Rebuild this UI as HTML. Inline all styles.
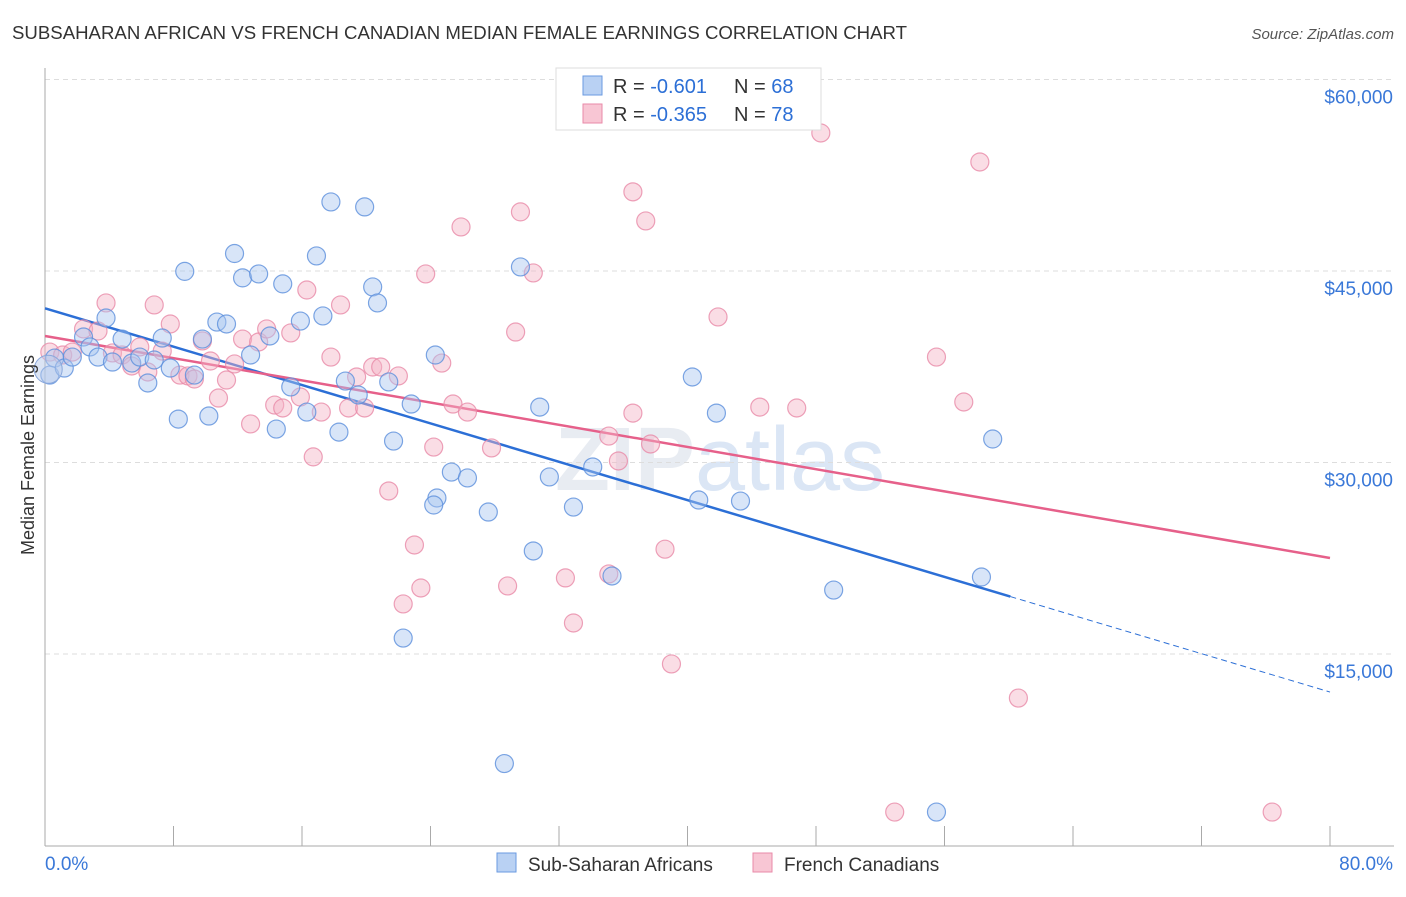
<!DOCTYPE html>
<html><head><meta charset="utf-8"><style>
body{margin:0;background:#fff;font-family:"Liberation Sans",sans-serif}
svg text{font-family:"Liberation Sans",sans-serif}
</style></head><body>
<svg id="chart" width="1406" height="892" viewBox="0 0 1406 892">
<text x="12" y="39" font-size="18" fill="#333" textLength="895" lengthAdjust="spacingAndGlyphs">SUBSAHARAN AFRICAN VS FRENCH CANADIAN MEDIAN FEMALE EARNINGS CORRELATION CHART</text>
<text x="1394" y="39" font-size="15" fill="#555" font-style="italic" text-anchor="end">Source: ZipAtlas.com</text>
<text x="720" y="490" font-size="90" fill="#e8ecf2" text-anchor="middle" font-weight="bold">ZIP<tspan fill="#dbe6f5" font-weight="normal">atlas</tspan></text>
<g id="grid"></g><g id="axes"></g><g id="lines"></g><g id="pts"></g>
<text transform="translate(34,455) rotate(-90)" font-size="18" fill="#333" text-anchor="middle">Median Female Earnings</text>
<g>
<rect x="556" y="68" width="265" height="62" fill="#fff" stroke="#ddd"/>
<rect x="583" y="76" width="19" height="19" fill="#b9d1f3" stroke="#6a9ae0"/>
<rect x="583" y="104" width="19" height="19" fill="#f8c6d4" stroke="#e98aa8"/>
<text x="613" y="93" font-size="20" fill="#333">R = <tspan fill="#2c6fd6">-0.601</tspan><tspan x="734">N = </tspan><tspan fill="#2c6fd6">68</tspan></text>
<text x="613" y="121" font-size="20" fill="#333">R = <tspan fill="#2c6fd6">-0.365</tspan><tspan x="734">N = </tspan><tspan fill="#2c6fd6">78</tspan></text>
</g>
<g>
<rect x="497" y="853" width="19" height="19" fill="#b9d1f3" stroke="#6a9ae0"/>
<text x="528" y="871" font-size="19" fill="#333">Sub-Saharan Africans</text>
<rect x="753" y="853" width="19" height="19" fill="#f8c6d4" stroke="#e98aa8"/>
<text x="784" y="871" font-size="19" fill="#333">French Canadians</text>
</g>
</svg>
<script>
const blueX=[0.3,0.6,1.2,1.7,2.4,2.8,3.3,3.8,4.2,4.8,5.4,5.9,6.4,6.8,7.3,7.8,8.3,8.7,9.3,9.8,10.2,10.7,11.3,11.8,12.3,12.8,13.3,14.0,14.4,14.8,15.3,15.9,16.3,16.9,17.3,17.8,18.3,18.7,19.5,19.9,20.4,20.7,21.4,21.7,22.3,22.8,24.3,25.3,26.3,27.6,28.6,29.6,30.4,30.8,31.4,32.9,34.1,35.3,40.3,40.7,41.8,43.3,49.1,55.5,58.3,59.0,24.4,24.2];
const blueY=[36850,38180,37400,38260,39830,39050,38260,41320,37870,39670,37790,38260,36230,38030,39750,37400,33400,44970,36850,39670,33640,41000,40850,46370,44460,38420,44770,39910,32620,43990,35920,41080,33950,46180,41480,50410,32380,36380,35290,50020,43750,42500,36310,31680,16250,34580,38420,29250,28790,26120,6420,45320,23070,34340,28870,26510,29650,21110,36700,27060,33870,26980,20010,2620,21030,31840,27220,26670];
const pinkX=[0.3,1.1,1.7,2.4,3.3,3.8,4.2,4.8,5.4,5.9,6.4,6.8,7.3,7.8,8.4,8.9,9.3,9.8,10.3,10.8,11.3,11.8,12.3,12.8,13.3,13.8,14.3,14.8,15.3,15.9,16.3,16.7,17.2,17.8,18.4,18.9,19.4,19.9,20.4,20.9,21.4,22.0,22.3,23.0,23.4,23.7,24.2,24.7,25.4,25.9,26.3,27.8,28.8,29.3,29.6,30.4,32.4,32.9,35.1,35.1,35.7,36.6,36.6,37.4,37.7,38.6,39.0,41.9,44.5,46.8,48.3,52.9,55.5,57.2,58.2,60.6,76.4];
const pinkY=[38650,38420,38650,40460,40300,42500,38580,38420,37560,39050,37090,42340,38730,40850,36850,36780,36540,39520,37950,35050,36460,37720,39670,33020,39440,40460,34500,34270,40150,35130,43510,30440,33950,38260,42340,34270,36700,34270,37480,37480,27770,36780,18920,23540,20170,44770,31210,37790,34580,48450,33950,31140,20330,40220,49630,44850,20960,17430,32070,21270,30120,51200,33870,48920,31450,23210,14220,41400,34340,34270,55810,2620,38260,34740,53540,11550,2620];
const yTicks=[15000,30000,45000,60000];
const yTickLabels=["$15,000","$30,000","$45,000","$60,000"];
const xTickLabels=["0.0%","80.0%"];
const blueTrend=[42080,12020];const blueSolidEnd=60.1;
const pinkTrend=[39910,22520];
const NS="http://www.w3.org/2000/svg";
const X=v=>45+v/80*1285, Y=v=>845.5-v/15000*191.5;
function mk(p,t,a){const e=document.createElementNS(NS,t);for(const k in a)e.setAttribute(k,a[k]);document.getElementById(p).appendChild(e);return e;}
yTicks.forEach((t,i)=>{
 const g=mk('grid','line',{x1:45,x2:1394,y1:Y(t),y2:Y(t),stroke:'#ddd','stroke-dasharray':'5,4'});
 
 
 const l=mk('grid','text',{x:1393,y:Y(t)+24,'text-anchor':'end','font-size':19,fill:'#3a78d8'});
 l.textContent=yTickLabels[i];
 
 
});
const ax=mk('axes','line',{x1:45,x2:45,y1:68,y2:846,stroke:'#aaa'});


const bx=mk('axes','line',{x1:45,x2:1394,y1:846,y2:846,stroke:'#aaa'});


for(let i=0;i<=10;i++){const t=mk('axes','line',{x1:X(i*8),x2:X(i*8),y1:826,y2:846,stroke:'#aaa'});
 
 }
[[0,'start',45],[80,'end',1393]].forEach((d,i)=>{const t=mk('axes','text',{x:d[2],y:870,'text-anchor':d[1],'font-size':19,fill:'#3a78d8'});t.textContent=xTickLabels[i];
 
 });
function pts(xs,ys,fill,stroke,name){xs.forEach((x,i)=>{const c=mk('pts','circle',{cx:X(x),cy:Y(ys[i]),r:9,fill:fill,'fill-opacity':0.45,stroke:stroke,'stroke-opacity':0.8,'stroke-width':1.2});
 
 });}
pts(pinkX,pinkY,'#f5b3c6','#e98aa8','french-canadian-point');
pts(blueX,blueY,'#a9c6f0','#5b8fdc','sub-saharan-point');
const big=mk('pts','circle',{cx:X(0.2),cy:Y(37300),r:14,fill:'#b7c9ea','fill-opacity':0.5,stroke:'#8aa8dc'});


const lv=(tr,x)=>tr[0]+(tr[1]-tr[0])*x/80;
const b1=mk('lines','line',{x1:X(0),y1:Y(blueTrend[0]),x2:X(blueSolidEnd),y2:Y(lv(blueTrend,blueSolidEnd)),stroke:'#2c6fd6','stroke-width':2.5});


const b2=mk('lines','line',{x1:X(blueSolidEnd),y1:Y(lv(blueTrend,blueSolidEnd)),x2:X(80),y2:Y(blueTrend[1]),stroke:'#2c6fd6','stroke-width':1,'stroke-dasharray':'6,4'});


const p1=mk('lines','line',{x1:X(0),y1:Y(pinkTrend[0]),x2:X(80),y2:Y(pinkTrend[1]),stroke:'#e6608a','stroke-width':2.5});


</script>
</body></html>
